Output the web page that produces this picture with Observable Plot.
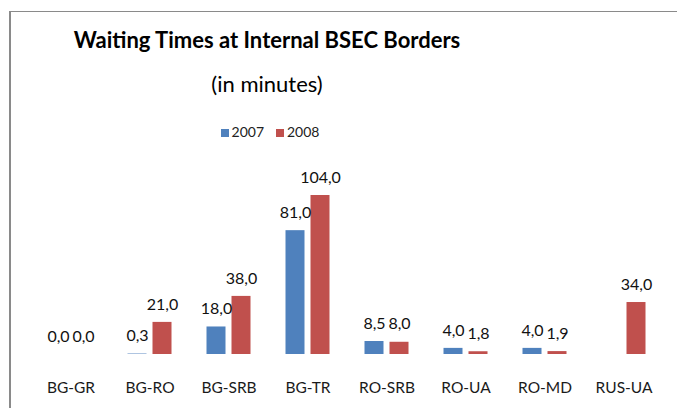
<!DOCTYPE html>
<html>
<head>
<meta charset="utf-8">
<script src="https://cdn.jsdelivr.net/npm/d3@7"></script>
<script src="https://cdn.jsdelivr.net/npm/@observablehq/plot@0.6"></script>
<style>
  html, body { margin: 0; padding: 0; background: #fff; }
  #wrap { position: relative; width: 677px; height: 408px; overflow: hidden; font-family: Lato, sans-serif; color: #000; }
  #frame { position: absolute; left: 9px; top: 11px; width: 700px; height: 420px; border-left: 2px solid #8a8a8a; border-top: 1px solid #8a8a8a; }
  .hdr { position: absolute; left: 0; width: 534px; text-align: center; white-space: nowrap; }
  #title { top: 29px; font-size: 22px; line-height: 22px; font-weight: bold; }
  #subtitle { top: 73px; font-size: 22px; line-height: 22px; }
  #legend { top: 125px; left: 0; width: 540px; font-size: 14px; line-height: 14px; color: #222; }
  #legend .item { display: inline-block; margin: 0 6px; }
  #legend .sw { display: inline-block; width: 8px; height: 8px; margin-right: 3px; vertical-align: 0px; }
  #chart { position: absolute; left: 0; top: 145px; }
</style>
</head>
<body>
<div id="wrap">
  <div id="frame"></div>
  <div id="title" class="hdr">Waiting Times at Internal BSEC Borders</div>
  <div id="subtitle" class="hdr">(in minutes)</div>
  <div id="legend" class="hdr"></div>
  <div id="chart"></div>
</div>
<script>
const categories = ["BG-GR", "BG-RO", "BG-SRB", "BG-TR", "RO-SRB", "RO-UA", "RO-MD", "RUS-UA"];
const years = ["2007", "2008"];
const values2007 = [0, 0.3, 18, 81, 8.5, 4, 4, null];
const values2008 = [0, 21, 38, 104, 8, 1.8, 1.9, 34];
const colors = ["#4F81BD", "#C0504D"];

const data = categories.flatMap((c, i) => [
  {cat: c, year: years[0], value: values2007[i]},
  {cat: c, year: years[1], value: values2008[i]}
]).filter(d => d.value != null);

const locale = d3.formatLocale({decimal: ",", thousands: ".", grouping: [3], currency: ["", ""]});
const fmt = locale.format(".1f");

// legend
const legend = document.getElementById("legend");
years.forEach((y, i) => {
  const it = document.createElement("span");
  it.className = "item";
  it.innerHTML = `<span class="sw" style="background:${colors[i]}"></span>${y}`;
  legend.appendChild(it);
});

const chart = Plot.plot({
  width: 677,
  height: 263,
  marginLeft: 30.5,
  marginRight: 14.5,
  marginTop: 50,
  marginBottom: 54,
  style: {fontFamily: "Lato, sans-serif", fontSize: "15.5px", color: "#1a1a1a", background: "transparent"},
  fx: {domain: categories, padding: 0, label: null, tickSize: 0, tickPadding: 27, axis: "bottom"},
  x: {domain: years, paddingInner: 0.2308, paddingOuter: 0.635, axis: null},
  y: {domain: [0, 104], axis: null},
  color: {domain: years, range: colors},
  marks: [
    Plot.barY(data, {fx: "cat", x: "year", y: "value", fill: "year"}),
    Plot.text(data, {fx: "cat", x: "year", y: "value", text: d => fmt(d.value), dy: -18, fontSize: 16, fill: "#111"})
  ]
});
document.getElementById("chart").appendChild(chart);
</script>
</body>
</html>
